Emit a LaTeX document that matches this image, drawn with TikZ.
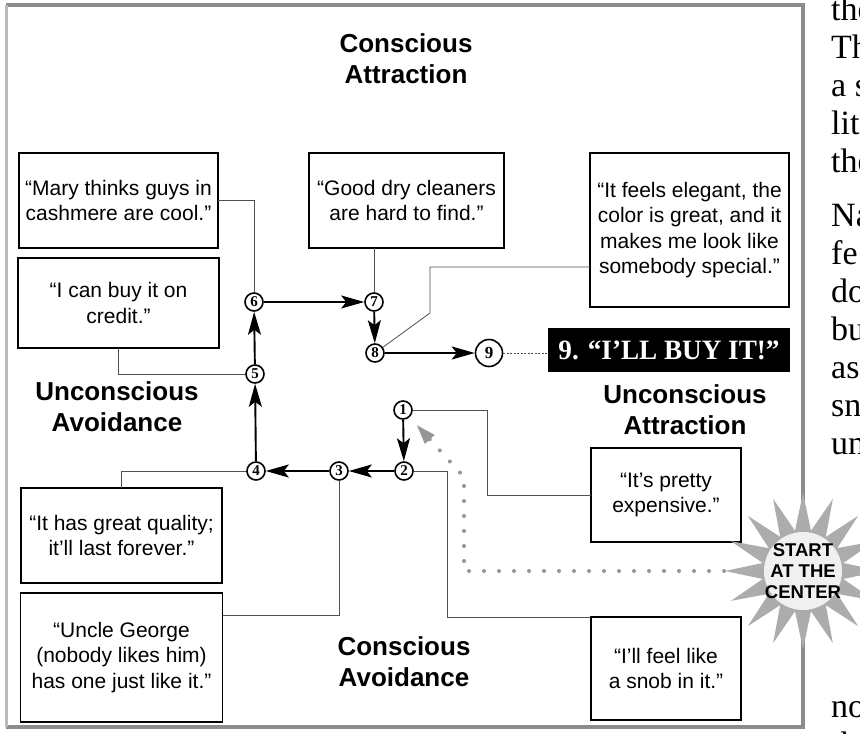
\documentclass[tikz,border=0pt]{standalone}
\usepackage{fontspec}
\setmainfont{Liberation Sans}
\newfontfamily\bookfont{Liberation Serif}
\usepackage{tikz}
\usetikzlibrary{arrows.meta, positioning, shapes.geometric, calc}
\definecolor{framegray}{RGB}{140,140,140}
\definecolor{trailgray}{RGB}{150,150,150}
\definecolor{linkgray}{RGB}{80,80,80}

\begin{document}
\begin{tikzpicture}[x=1pt, y=-1pt,
    quote/.style={draw, line width=1.5pt, align=center, inner sep=0pt, outer sep=0pt,
                  font=\fontsize{21}{25.5}\selectfont},
    zone/.style={align=center, font=\fontsize{26}{31}\selectfont\bfseries},
    stepno/.style={draw, circle, line width=1.6pt, minimum size=18pt, inner sep=0pt,
                   fill=white, font=\bookfont\fontsize{15}{15}\selectfont\bfseries},
    flow/.style={-{Stealth[length=23pt, width=13pt, inset=5pt]}, line width=1.9pt},
    link/.style={line width=0.8pt, color=linkgray},
    trail/.style={-{Triangle[length=20pt, width=12pt]}, color=trailgray, line width=4pt,
                  line cap=round, dash pattern=on 0pt off 15pt},
    booktext/.style={anchor=base west, inner sep=0pt, font=\bookfont\fontsize{34}{38}\selectfont},
]
    \useasboundingbox (0,0) rectangle (860,734);
    \fill[white] (0,0) rectangle (860,734);

    % frame round the diagram
    \draw[framegray, line width=4.5pt] (6,5) -- (803,5) -- (803,727) -- (6,727);
    \draw[framegray!60, line width=3pt] (6,5) -- (6,727);

    % zone titles
    \node[zone] (cattr) at (406,59)  {Conscious\\Attraction};
    \node[zone] (uavoi) at (117,407) {Unconscious\\Avoidance};
    \node[zone] (uattr) at (685,410) {Unconscious\\Attraction};
    \node[zone] (cavoi) at (404,662) {Conscious\\Avoidance};

    % quotes
    \node[quote, minimum width=199pt, minimum height=95pt] (mary) at (118.5,200.5)
        {“Mary thinks guys in\\cashmere are cool.”};
    \node[quote, minimum width=201pt, minimum height=90pt, below=10pt of mary] (credit)
        {“I can buy it on\\credit.”};
    \node[quote, minimum width=195pt, minimum height=95pt] (clean) at (406.5,200.5)
        {“Good dry cleaners\\are hard to find.”};
    \node[quote, minimum width=199pt, minimum height=154pt] (elegant) at (689.5,230)
        {“It feels elegant, the\\color is great, and it\\makes me look like\\somebody special.”};
    \node[quote, minimum width=150pt, minimum height=94pt] (pricey) at (666,495)
        {“It’s pretty\\expensive.”};
    \node[quote, minimum width=150pt, minimum height=103pt, below=75pt of pricey] (snob)
        {“I’ll feel like\\a snob in it.”};
    \node[quote, minimum width=201pt, minimum height=95pt] (quality) at (121.5,535.5)
        {“It has great quality;\\it’ll last forever.”};
    \node[quote, minimum width=202pt, minimum height=129pt, below=10pt of quality] (george)
        {“Uncle George\\(nobody likes him)\\has one just like it.”};

    \node[fill=black, text=white, minimum width=242pt, minimum height=44pt, inner sep=0pt,
          font=\bookfont\fontsize{28}{28}\selectfont\bfseries] (buy) at (669,350)
        {\scalebox{0.97}[1]{9. “I’LL BUY IT!”}};

    % steps
    \node[stepno] (n1) at (403,410) {1};
    \node[stepno] (n2) at (404,471) {2};
    \node[stepno] (n3) at (339,471) {3};
    \node[stepno] (n4) at (256,471) {4};
    \node[stepno] (n5) at (255,374) {5};
    \node[stepno] (n6) at (254,302) {6};
    \node[stepno] (n7) at (374,302) {7};
    \node[stepno] (n8) at (375,353) {8};
    \node[stepno, minimum size=27pt, font=\bookfont\fontsize{17}{17}\selectfont\bfseries]
        (n9) at (489,353) {9};
    \coordinate (elbow) at (430,313);

    \draw[link] (mary.east) -| (n6);
    \draw[link] (credit.south) |- (n5);
    \draw[link] (clean.south -| n7) -- (n7);
    \draw[link] ($(elegant.south west)+(0,-40)$) -| (elbow) -- (n8);
    \draw[link] (pricey.west) -- ++(-104,0) |- (n1);
    \draw[link] (snob.north west) -- ++(-144,0) |- (n2);
    \draw[link] (quality.north) |- (n4);
    \draw[link] ($(george.north east)+(0,22)$) -| (n3);
    \draw[link, dash pattern=on 2pt off 1.5pt] (n9) -- (n9 -| buy.west);

    \draw[flow] (n1) -- (n2);
    \draw[flow] (n2) -- (n3);
    \draw[flow] (n3) -- (n4);
    \draw[flow] (n4) -- (n5);
    \draw[flow] (n5) -- (n6);
    \draw[flow] (n6) -- (n7);
    \draw[flow] (n7) -- (n8);
    \draw[flow] (n8) -- (n9);

    % starburst
    \node[star, star points=16, star point ratio=1.9, minimum size=156pt, inner sep=0pt,
          fill=gray!65] (burst) at (803,571) {};
    \fill[gray!12] (burst.center) circle (39);
    \node[align=center, inner sep=0pt, font=\fontsize{18.5}{21}\selectfont\bfseries]
        (startlbl) at (burst.center) {START\\AT THE\\CENTER};
    \draw[trail, shorten >=10pt] (burst.west) -- ++(-260,0) -- ++(0,-94) -- (n1);

    % page text beside the figure
    \foreach \yy/\ww [count=\i] in {20/the, 58/Th, 96/a s, 134/lit, 172/the, 226/Na,
        264/fe, 302/do, 340/bu, 378/as, 416/sn, 454/un, 717/no, 755/th}
        \node[booktext] (bk\i) at (831,\yy) {\ww};
\end{tikzpicture}
\end{document}
